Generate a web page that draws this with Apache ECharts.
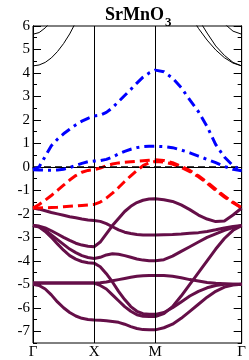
<!DOCTYPE html>
<html><head><meta charset="utf-8">
<script src="https://cdn.jsdelivr.net/npm/echarts@6/dist/echarts.min.js"></script>
<style>html,body{margin:0;padding:0;background:#fff}#c{width:249px;height:360px}</style>
</head><body><div id="c"></div>
<script>
// k-path distance (units of 2π/a): Γ-X, X-M, M-Γ
const K = [0,0.1,0.2,0.3,0.4,0.5,0.6,0.7,0.8,0.9,1.0,
  1.1,1.2,1.3,1.4,1.5,1.6,1.7,1.8,1.9,2.0,
  2.1414,2.2828,2.4243,2.5657,2.7071,2.8485,2.9899,3.1314,3.2728,3.4142];
const xTickPos = [0,1,2,3.4142];
const xTickLabels = ['Γ','X','M','Γ'];
const yMajor = [-7,-6,-5,-4,-3,-2,-1,0,1,2,3,4,5,6];
const yMinor = [-7.5,-6.5,-5.5,-4.5,-3.5,-2.5,-1.5,-0.5,0.5,1.5,2.5,3.5,4.5,5.5];
const N = null;
// conduction bands (black)
const black1 = [4.3,4.34,4.45,4.64,4.91,5.25,5.66,6.16,N,N,N, N,N,N,N,N,N,N,N,N,N, N,N,N,N,N,N,N,N,N,N];
const black2 = [5.65,5.72,5.92,6.2,N,N,N,N,N,N,N, N,N,N,N,N,N,N,N,N,N, N,N,N,N,N,N,N,N,N,N];
const black3 = [N,N,N,N,N,N,N,N,N,N,N, N,N,N,N,N,N,N,N,N,N, N,N,N,6.5,5.9,5.4,4.98,4.65,4.42,4.3];
const black4 = [N,N,N,N,N,N,N,N,N,N,N, N,N,N,N,N,N,N,N,N,N, N,N,N,N,6.3,5.7,5.15,4.75,4.45,4.3];
const black5 = [N,N,N,N,N,N,N,N,N,N,N, N,N,N,N,N,N,N,N,N,N, N,N,N,N,N,N,N,6.1,5.78,5.65];
// blue dash-dot bands
const blue1 = [-0.12,0.0,0.45,0.9,1.18,1.41,1.6,1.79,1.95,2.07,2.17,
  2.2,2.32,2.52,2.78,3.04,3.3,3.57,3.82,4.0,4.12,
  4.05,3.78,3.38,2.85,2.35,1.72,0.95,0.42,0.05,-0.15];
const blue2 = [-0.12,-0.13,-0.14,-0.14,-0.13,-0.1,-0.03,0.06,0.15,0.22,0.25,
  0.27,0.32,0.42,0.55,0.66,0.75,0.82,0.86,0.88,0.88,
  0.86,0.82,0.72,0.6,0.46,0.32,0.18,0.02,-0.1,-0.16];
// red dashed bands
const red1 = [-1.75,-1.6,-1.42,-1.22,-1.0,-0.78,-0.56,-0.37,-0.23,-0.15,-0.12,
  -0.05,0.05,0.12,0.17,0.2,0.22,0.24,0.26,0.28,0.3,
  0.27,0.18,0.02,-0.15,-0.38,-0.65,-0.95,-1.24,-1.5,-1.74];
const red2 = [-1.75,-1.75,-1.74,-1.73,-1.72,-1.7,-1.68,-1.66,-1.64,-1.62,-1.6,
  -1.5,-1.33,-1.12,-0.88,-0.62,-0.38,-0.15,0.05,0.18,0.23,
  0.2,0.12,-0.02,-0.2,-0.42,-0.7,-1.0,-1.28,-1.53,-1.75];
// purple (O-2p) bands
const p1 = [-1.75,-1.8,-1.87,-1.94,-2.0,-2.06,-2.12,-2.17,-2.22,-2.26,-2.28,
  -2.32,-2.42,-2.55,-2.68,-2.78,-2.84,-2.88,-2.9,-2.9,-2.9,
  -2.89,-2.88,-2.86,-2.83,-2.8,-2.75,-2.68,-2.6,-2.54,-2.5];
const p2 = [-2.5,-2.52,-2.6,-2.72,-2.86,-3.0,-3.13,-3.25,-3.33,-3.38,-3.4,
  -3.2,-2.85,-2.5,-2.2,-1.9,-1.68,-1.52,-1.42,-1.37,-1.36,
  -1.4,-1.47,-1.62,-1.82,-2.05,-2.22,-2.33,-2.3,-2.05,-1.75];
const p3 = [-2.5,-2.55,-2.7,-2.9,-3.1,-3.3,-3.5,-3.65,-3.78,-3.86,-3.9,
  -3.85,-3.75,-3.7,-3.72,-3.78,-3.85,-3.92,-3.97,-4.0,-4.0,
  -3.95,-3.8,-3.6,-3.4,-3.2,-3.0,-2.85,-2.7,-2.58,-2.5];
const p4 = [-2.5,-2.56,-2.75,-3.0,-3.28,-3.55,-3.78,-3.93,-4.03,-4.08,-4.1,
  -4.25,-4.55,-4.9,-5.3,-5.65,-5.95,-6.15,-6.25,-6.28,-6.28,
  -6.2,-6.0,-5.75,-5.5,-5.3,-5.15,-5.05,-5.0,-5.0,-5.0];
const p5 = [-4.95,-4.95,-4.95,-4.95,-4.95,-4.95,-4.95,-4.95,-4.95,-4.95,-4.95,
  -4.93,-4.9,-4.85,-4.8,-4.75,-4.7,-4.66,-4.64,-4.63,-4.63,
  -4.63,-4.66,-4.72,-4.8,-4.86,-4.92,-4.96,-4.98,-5.0,-5.0];
const p6 = [-4.95,-4.95,-4.95,-4.95,-4.95,-4.95,-4.95,-4.95,-4.95,-4.95,-4.95,
  -5.05,-5.2,-5.45,-5.7,-5.95,-6.15,-6.3,-6.36,-6.37,-6.37,
  -6.25,-5.95,-5.5,-5.0,-4.5,-4.0,-3.5,-3.05,-2.7,-2.5];
const p7 = [-5.0,-5.05,-5.2,-5.45,-5.75,-6.0,-6.2,-6.35,-6.45,-6.5,-6.52,
  -6.53,-6.55,-6.58,-6.62,-6.7,-6.8,-6.88,-6.93,-6.94,-6.94,
  -6.85,-6.7,-6.45,-6.15,-5.85,-5.55,-5.3,-5.12,-5.03,-5.0];

const FONT = 'Liberation Serif';
const pair = b => K.map((k,i)=>[k,b[i]]);
const purple = '#650f48';
function band(b, color, width, type, z){
  return {type:'line', data:pair(b), showSymbol:false, symbol:'none', silent:true, z:z,
    lineStyle:{color:color, width:width, type:type, cap:'butt'}, connectNulls:false, animation:false};
}
const series = [];
[black1,black2,black3,black4,black5].forEach(b=>series.push(band(b,'#000',1,'solid',2)));
[p1,p2,p3,p4,p5,p6,p7].forEach(b=>series.push(band(b,purple,3,'solid',3)));
[red1,red2].forEach(b=>series.push(band(b,'#ff0000',3,[10,5],4)));
[blue1,blue2].forEach(b=>series.push(band(b,'#0000ff',3,[10,5,3,5],5)));
series.push({type:'line', data:[], z:1, silent:true, animation:false,
  markLine:{symbol:'none', silent:true, animation:false, label:{show:false},
    data:[
      {xAxis:xTickPos[1], lineStyle:{color:'#000', width:1, type:'solid'}},
      {xAxis:xTickPos[2], lineStyle:{color:'#000', width:1, type:'solid'}},
      {yAxis:0, lineStyle:{color:'#000', width:1.5, type:[7,4]}}
    ]}});

const yBase = {type:'value', min:-7.5, max:6, splitLine:{show:false},
  axisLine:{show:true, lineStyle:{color:'#000', width:1}}};
const chart = echarts.init(document.getElementById('c'), null, {renderer:'canvas'});
chart.setOption({
  animation:false,
  title:{text:'{a|SrMnO}{b|3}', left:100, top:1,
    textStyle:{rich:{
      a:{fontFamily:FONT, fontWeight:'bold', fontSize:18, color:'#000', verticalAlign:'top', lineHeight:21},
      b:{fontFamily:FONT, fontWeight:'bold', fontSize:13, color:'#000', verticalAlign:'top', padding:[10,0,0,1]}
    }}},
  grid:{left:33, right:6, top:26, bottom:15, show:true, borderColor:'#000', borderWidth:1, backgroundColor:'transparent'},
  xAxis:[{type:'value', min:0, max:xTickPos[3], position:'bottom',
    axisLine:{show:true, lineStyle:{color:'#000', width:1}}, splitLine:{show:false},
    axisTick:{show:false},
    axisLabel:{customValues:xTickPos, fontFamily:FONT, fontSize:15, color:'#000', margin:2,
      formatter:(v)=>{const i=xTickPos.findIndex(p=>Math.abs(p-v)<1e-3); return i>=0?xTickLabels[i]:'';}}}],
  yAxis:[
    Object.assign({}, yBase, {position:'left',
      axisTick:{show:true, inside:true, length:8, customValues:yMajor, lineStyle:{color:'#000'}},
      axisLabel:{customValues:yMajor, fontFamily:FONT, fontSize:15, color:'#000', margin:3}}),
    Object.assign({}, yBase, {position:'left',
      axisTick:{show:true, inside:true, length:4, customValues:yMinor, lineStyle:{color:'#000'}},
      axisLabel:{show:false}}),
    Object.assign({}, yBase, {position:'right',
      axisTick:{show:true, inside:true, length:8, customValues:yMajor, lineStyle:{color:'#000'}},
      axisLabel:{show:false}}),
    Object.assign({}, yBase, {position:'right',
      axisTick:{show:true, inside:true, length:4, customValues:yMinor, lineStyle:{color:'#000'}},
      axisLabel:{show:false}})
  ],
  series:series
});
</script></body></html>
